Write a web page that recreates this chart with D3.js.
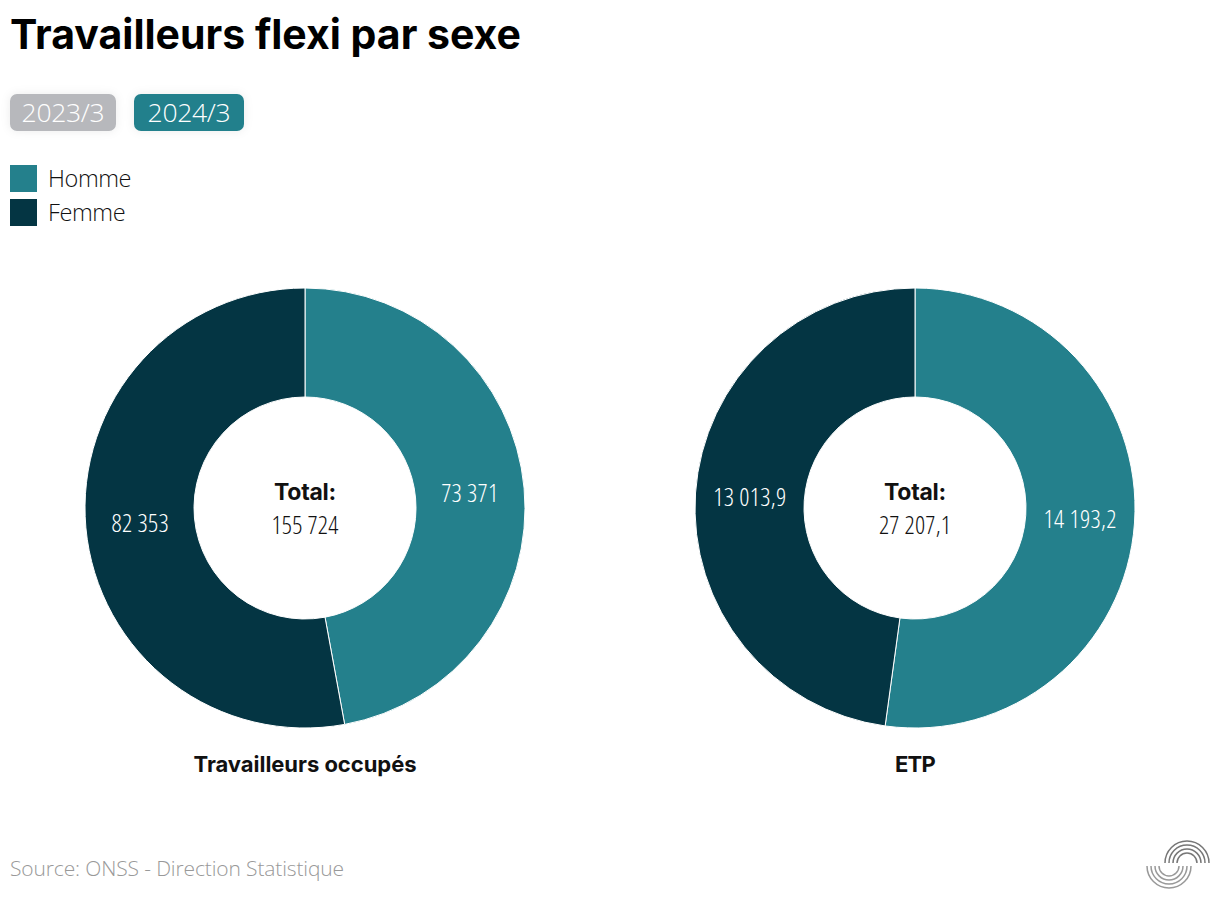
<!DOCTYPE html>
<html><head><meta charset="utf-8">
<script src="https://cdn.jsdelivr.net/npm/d3@7"></script>
<style>
html,body{margin:0;padding:0;background:#fff;}
svg{display:block;font-family:"Open Sans","Noto Sans",sans-serif;}
.cond{font-stretch:85%;}
</style></head>
<body>
<svg id="chart" width="1220" height="906"></svg>
<script>
const title = "Travailleurs flexi par sexe";
const periods = ["2023/3", "2024/3"];
const activePeriod = "2024/3";
const categories = ["Homme", "Femme"];
const colors = ["#24808c", "#043543"];
const charts = ["Travailleurs occupés", "ETP"];
const valuesOccupes = [73371, 82353];
const valuesETP = [14193.2, 13013.9];
const source = "Source: ONSS - Direction Statistique";

const fr = d3.formatLocale({decimal: ",", thousands: " ", grouping: [3], currency: ["", " €"]});
const fmtInt = fr.format(",.0f");
const fmtDec = fr.format(",.1f");

const BOLD = "Inter, Lato, sans-serif";
const LIGHT = "'Open Sans', Lato, sans-serif";

const svg = d3.select("#chart");
const defs = svg.append("defs");
const f = defs.append("filter").attr("id","sh").attr("x","-30%").attr("y","-50%").attr("width","160%").attr("height","200%");
f.append("feDropShadow").attr("dx",0).attr("dy",0).attr("stdDeviation",5).attr("flood-color","#000").attr("flood-opacity",0.08);

// fit helper: adjust letter-spacing so the text spans roughly the target width
function fit(sel, w) {
  sel.each(function() {
    const t = d3.select(this);
    const n = t.text().length;
    const cur = this.getComputedTextLength();
    const ls = parseFloat(t.attr("letter-spacing") || 0);
    t.attr("letter-spacing", ls + (w - cur) / Math.max(1, n));
  });
  return sel;
}

// Title
fit(svg.append("text").attr("x", 10).attr("y", 49)
  .attr("font-family", BOLD).attr("font-weight", 700)
  .attr("font-size", 41).attr("fill", "#000").text(title), 511);

// Period buttons
const btnX = [10, 134], btnW = [106, 110];
periods.forEach((p, i) => {
  const g = svg.append("g");
  g.append("rect").attr("x", btnX[i]).attr("y", 94).attr("width", btnW[i]).attr("height", 37)
    .attr("rx", 7).attr("fill", p === activePeriod ? "#24808c" : "#b7b8bc").attr("filter","url(#sh)");
  g.append("text").attr("x", btnX[i] + btnW[i] / 2).attr("y", 122).attr("text-anchor", "middle")
    .attr("font-family", LIGHT).attr("font-size", 26.5).attr("font-weight", 300).attr("letter-spacing", -0.3)
    .attr("fill", "#fff").text(p);
});

// Legend
categories.forEach((c, i) => {
  svg.append("rect").attr("x", 10).attr("y", 165 + i * 34).attr("width", 27).attr("height", 27).attr("fill", colors[i]);
  svg.append("text").attr("x", 48).attr("y", 187 + i * 34).attr("font-family", LIGHT).attr("font-size", 23.5).attr("font-weight", 300)
    .attr("letter-spacing", -0.4).attr("fill", "#111").text(c);
});

// Donuts
const outerR = 220, innerR = 111;
const centersX = d3.scalePoint().domain(charts).range([305, 915]);
const cy = 508;
const pie = d3.pie().sort(null).value(d => d.v);
const arc = d3.arc().innerRadius(innerR).outerRadius(outerR);
const datasets = [
  {name: charts[0], values: valuesOccupes, fmt: fmtInt},
  {name: charts[1], values: valuesETP, fmt: fmtDec}
];
datasets.forEach(ds => {
  const g = svg.append("g").attr("transform", `translate(${centersX(ds.name)},${cy})`);
  const data = pie(ds.values.map((v, i) => ({v, c: categories[i], col: colors[i]})));
  g.selectAll("path").data(data).join("path").attr("d", arc)
    .attr("fill", d => d.data.col).attr("stroke", "#fff").attr("stroke-width", 1);
  g.selectAll("text.lbl").data(data).join("text").attr("class", "lbl cond")
    .attr("transform", d => `translate(${arc.centroid(d)})`)
    .attr("text-anchor", "middle").attr("dy", "0.36em")
    .attr("font-family", LIGHT).attr("font-size", 25).attr("font-weight", 300).attr("letter-spacing", 0.3).attr("fill", "#fff")
    .text(d => ds.fmt(d.data.v));
  const total = d3.sum(ds.values);
  fit(g.append("text").attr("text-anchor", "middle").attr("y", -8).attr("font-size", 23)
    .attr("font-family", BOLD).attr("font-weight", 700).attr("fill", "#111").text("Total:"), 62);
  g.append("text").attr("text-anchor", "middle").attr("y", 26).attr("font-size", 25).attr("class", "cond")
    .attr("font-family", LIGHT).attr("font-weight", 300).attr("letter-spacing", 0.2).attr("fill", "#111").text(ds.fmt(total));
  fit(g.append("text").attr("text-anchor", "middle").attr("y", 264).attr("font-size", 22)
    .attr("font-family", BOLD).attr("font-weight", 700).attr("fill", "#111").text(ds.name), ds.name === "ETP" ? 40 : 223);
});

// Source
fit(svg.append("text").attr("x", 10).attr("y", 876).attr("font-family", LIGHT).attr("font-size", 21).attr("font-weight", 300)
  .attr("fill", "#999").text(source), 334);

// Logo (decorative)
const logo = svg.append("g").attr("fill", "none").attr("stroke", "#777").attr("stroke-width", 1.5);
[10, 14, 18, 22].forEach(r => {
  logo.append("path").attr("d", d3.arc()({innerRadius: r, outerRadius: r, startAngle: -Math.PI / 2, endAngle: Math.PI / 2}))
    .attr("transform", "translate(1187,863)");
  logo.append("path").attr("d", d3.arc()({innerRadius: r, outerRadius: r, startAngle: Math.PI / 2, endAngle: 3 * Math.PI / 2}))
    .attr("transform", "translate(1169,866)").attr("stroke", "#999");
});
</script>
</body></html>
